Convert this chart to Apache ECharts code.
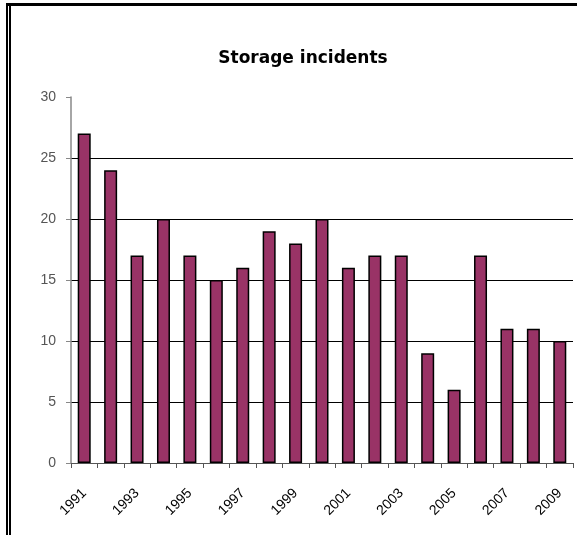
<!DOCTYPE html>
<html>
<head>
<meta charset="utf-8">
<script src="https://cdn.jsdelivr.net/npm/echarts@6/dist/echarts.min.js"></script>
<style>
  html, body { margin: 0; padding: 0; background: #fff; }
  #chart { width: 577px; height: 535px; }
</style>
</head>
<body>
<div id="chart"></div>
<script>
// Yearly storage incidents
const years = ['1991','1992','1993','1994','1995','1996','1997','1998','1999','2000',
               '2001','2002','2003','2004','2005','2006','2007','2008','2009'];
const incidents = [27, 24, 17, 20, 17, 15, 16, 19, 18, 20, 16, 17, 17, 9, 6, 17, 11, 11, 10];
const yTicks = { min: 0, max: 30, interval: 5 };
const chartTitle = 'Storage incidents';

const chart = echarts.init(document.getElementById('chart'), null, { renderer: 'canvas' });

chart.setOption({
  animation: false,
  backgroundColor: '#fff',
  title: {
    text: chartTitle,
    left: 298,
    textAlign: 'center',
    top: 45,
    textStyle: { fontFamily: 'DejaVu Sans, Verdana, sans-serif', fontSize: 17, fontWeight: 'bold', color: '#000' }
  },
  graphic: [
    // frame: heavy top rule and double left rule
    { type: 'rect', shape: { x: 6, y: 3, width: 571, height: 3 }, style: { fill: '#000' } },
    { type: 'rect', shape: { x: 6, y: 3, width: 2, height: 532 }, style: { fill: '#000' } },
    { type: 'rect', shape: { x: 9, y: 6, width: 2, height: 529 }, style: { fill: '#000' } }
  ],
  grid: { left: 71, right: 4, top: 97, bottom: 72, containLabel: false },
  xAxis: {
    type: 'category',
    data: years,
    boundaryGap: true,
    axisLine: { lineStyle: { color: '#555', width: 1 } },
    axisTick: { show: true, interval: 0, alignWithLabel: false, length: 5, inside: false, lineStyle: { color: '#555' } },
    axisLabel: {
      interval: 1,
      rotate: 45,
      margin: 28,
      fontFamily: 'Liberation Sans, Arial, sans-serif',
      fontSize: 14,
      color: '#000'
    }
  },
  yAxis: {
    type: 'value',
    min: yTicks.min,
    max: yTicks.max,
    interval: yTicks.interval,
    axisLine: { show: true, lineStyle: { color: '#888', width: 1.5 } },
    axisTick: { show: true, length: 5, inside: false, lineStyle: { color: '#888' } },
    axisLabel: {
      margin: 15,
      fontFamily: 'Liberation Sans, Arial, sans-serif',
      fontSize: 14,
      color: '#555'
    },
    splitLine: { show: true, showMaxLine: false, showMinLine: false, lineStyle: { color: '#000', width: 1 } }
  },
  series: [{
    type: 'bar',
    data: incidents,
    barWidth: 13,
    itemStyle: { color: '#993366', borderColor: '#000', borderWidth: 1.5 }
  }]
});
</script>
</body>
</html>
